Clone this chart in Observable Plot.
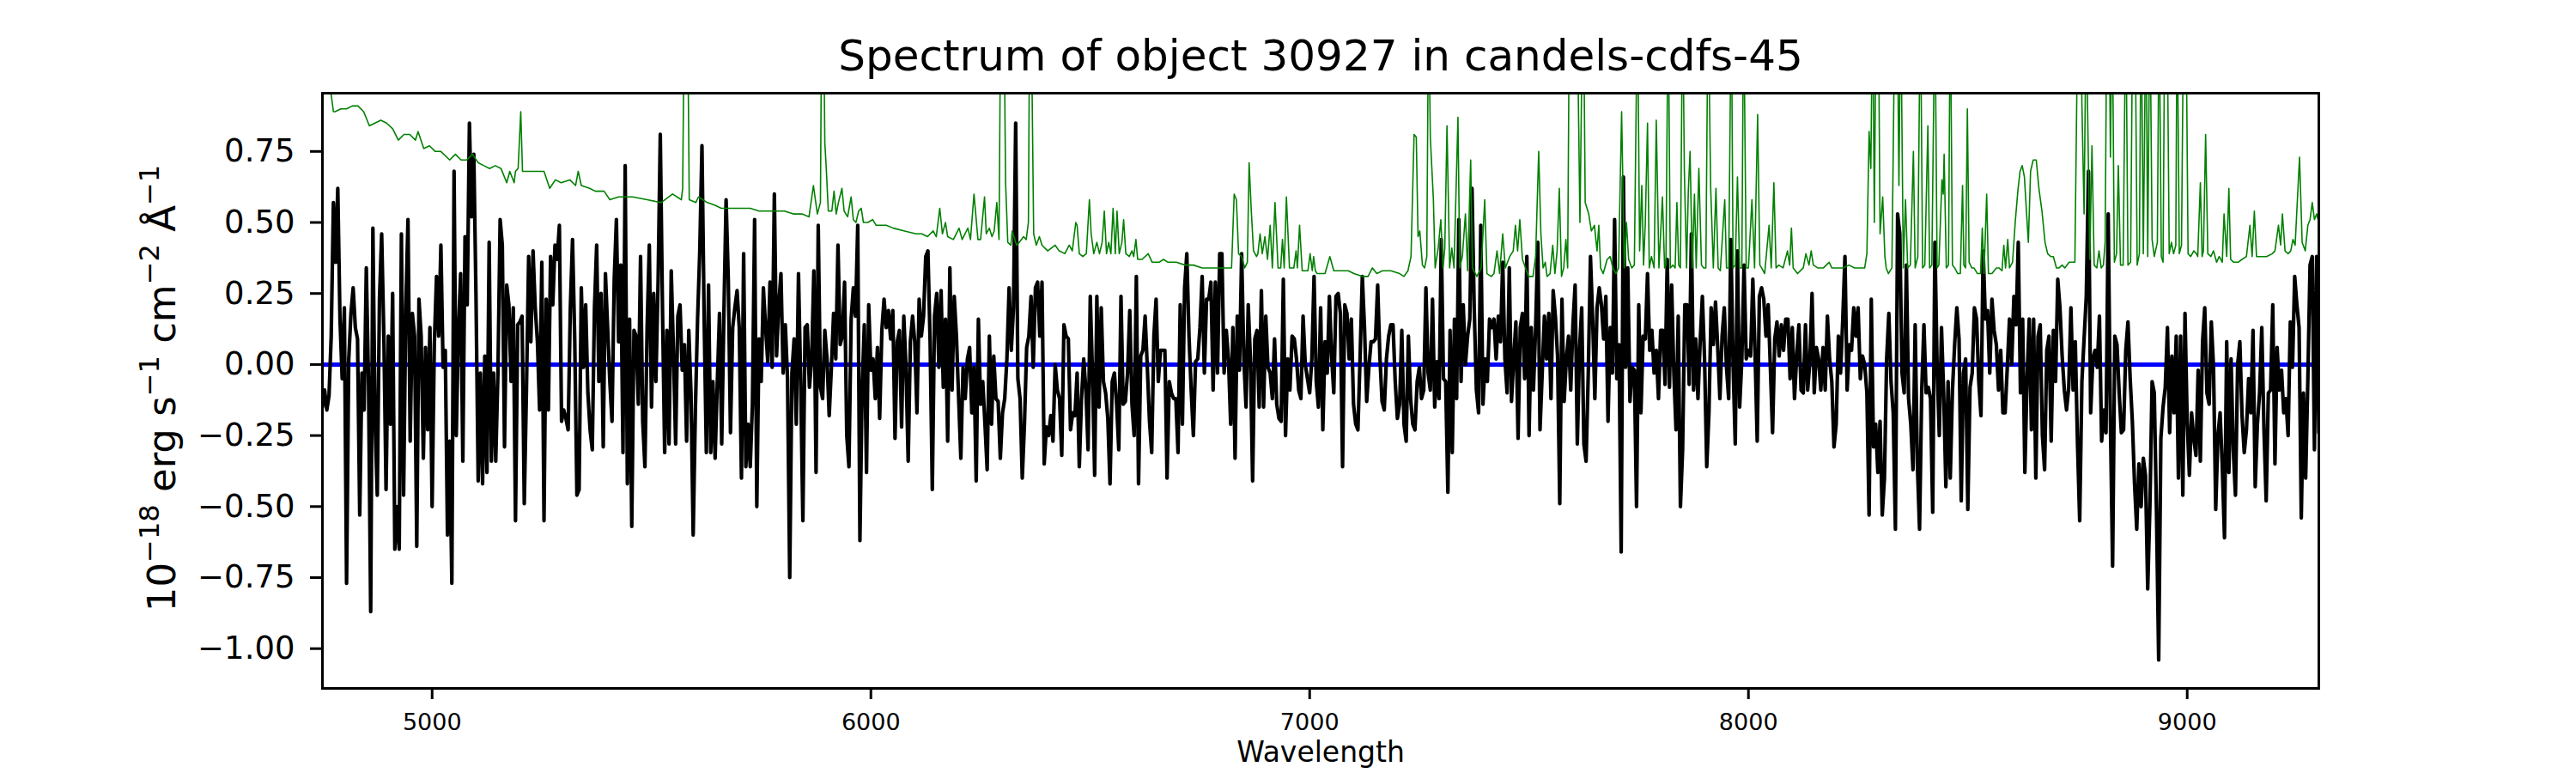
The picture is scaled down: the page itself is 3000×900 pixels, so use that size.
<!DOCTYPE html>
<html><head><meta charset="utf-8">
<script src="https://cdn.jsdelivr.net/npm/d3@7"></script>
<script src="https://cdn.jsdelivr.net/npm/@observablehq/plot@0.6"></script>
<style>html,body{margin:0;padding:0;background:#fff} svg{display:block}</style>
</head><body><div id="chart"></div>
<script>
const titleText = "Spectrum of object 30927 in candels-cdfs-45";
const xLabelText = "Wavelength";
const xTicks = [5000, 6000, 7000, 8000, 9000];
const yTicks = [-1, -0.75, -0.5, -0.25, 0, 0.25, 0.5, 0.75];
const modelLevel = [0];
// observed flux, one value every 5 Å starting at 4750 Å (each line = 100 Å)
const fluxStart = 4750, fluxStep = 5;
const flux = [
-.15,-.09,-.16,-.11,.1,.57,.36,.62,.16,-.05,.2,-.77,.02,.18,.27,.13,.09,-.53,-.03,-.16, // 4750
.34,-.06,-.87,.48,-.2,-.46,.23,.46,.1,-.44,.1,-.21,.25,-.65,-.5,-.65,.46,-.46,.2,.51, // 4850
-.27,.18,.1,-.64,.23,.1,-.33,.06,-.23,.13,-.5,.07,.31,.1,.42,-.01,.05,-.6,-.27,-.77, // 4950
.68,-.25,.12,.32,-.34,.45,.21,.85,.52,.74,.24,-.41,-.03,-.42,.03,-.38,.43,-.34,-.03,-.34, // 5050
-.03,.51,.42,-.29,.28,.21,-.06,.2,-.55,.14,.15,.17,-.49,-.09,.38,.08,.4,.2,.08,-.16, // 5150
.36,-.55,.23,-.16,.38,.21,.42,.37,.49,-.2,-.16,-.19,-.23,.2,.44,.09,-.46,-.44,.27,-.01, // 5250
.21,-.1,-.23,-.3,.2,.42,-.06,.25,-.29,.32,.13,-.06,-.2,.3,.51,.08,.35,-.31,.7,-.42, // 5350
.16,-.57,.12,.1,-.14,.38,-.2,-.36,.13,.42,-.15,.25,-.06,.29,.81,.2,-.31,.12,-.28,.33, // 5450
.05,-.28,.17,.21,-.02,.07,-.27,.12,-.1,-.6,-.16,.16,.4,.77,.16,-.31,.28,-.31,-.06,-.33, // 5550
-.06,.18,-.28,.18,.58,.3,-.24,.13,.2,.26,.13,-.4,.39,-.36,-.21,-.36,-.14,.51,-.5,.09, // 5650
-.06,.27,.13,.01,.29,-.01,.6,.03,.21,.32,-.03,.14,-.05,-.75,-.03,.09,-.21,.32,-.06,-.55, // 5750
.13,.14,-.08,.02,.33,-.38,.49,-.08,-.12,.12,.02,-.18,-.01,.18,.02,.42,.07,.1,.29,-.25, // 5850
-.36,.16,.27,.17,.49,-.62,-.09,.14,-.38,.21,-.02,.02,-.12,.06,-.19,.12,.23,.13,.19,.09, // 5950
.19,-.26,.08,.12,-.22,.17,-.01,-.34,.08,.17,.08,-.17,.23,.1,.17,.38,.4,.08,-.44,.17, // 6050
.25,-.01,.26,-.08,.16,-.27,.34,-.09,.24,.1,-.12,-.33,-.01,-.12,.02,.06,-.17,-.01,-.41,.16, // 6150
-.14,-.06,-.21,-.37,.1,-.21,.03,-.12,-.13,-.33,-.17,-.12,.02,.27,.05,.2,.85,-.05,-.12,-.4, // 6250
-.21,.06,.1,.24,-.01,.27,.29,.1,.29,-.35,-.22,-.25,-.18,-.27,0,-.09,-.12,-.32,.14,.1, // 6350
.09,-.23,-.17,-.18,-.03,-.36,-.12,.02,-.09,-.3,.24,-.03,-.39,.24,-.15,.2,-.06,-.1,-.19,-.42, // 6450
-.06,-.03,-.14,-.3,.24,-.14,-.13,-.03,.19,-.14,-.25,.31,-.42,.03,.05,.17,-.01,-.2,-.31,.1, // 6550
.23,-.06,.05,.05,.05,-.4,-.06,-.1,-.12,-.12,-.31,.21,-.21,.27,.39,.1,-.09,-.25,.01,.02, // 6650
.13,.31,-.03,.23,.23,.29,-.09,.29,-.03,.39,.39,-.03,.12,.02,-.21,.13,-.33,.17,-.02,.39, // 6750
.02,-.15,.21,.02,-.41,.09,.12,-.15,.26,-.15,.17,-.01,-.03,-.12,.09,-.14,-.19,-.2,.3,-.25, // 6850
.02,-.09,.1,.09,.02,-.09,-.12,.17,0,-.05,-.1,.02,.31,-.06,-.15,.2,-.23,.08,-.03,.24, // 6950
.03,-.1,.24,.25,.18,-.36,.21,.18,.02,.16,-.14,-.21,-.23,.03,.31,.13,-.13,-.01,.08,.08, // 7050
.09,.28,.03,-.13,-.16,.02,.1,.14,.14,-.06,-.19,-.14,.12,-.21,-.27,.1,-.12,-.21,-.23,-.06, // 7150
-.01,-.12,-.09,.27,-.03,-.09,.23,-.15,.01,-.12,.44,-.05,-.06,-.45,.12,-.31,.16,-.12,.51,-.06, // 7250
.21,0,.1,.16,.62,.2,-.09,-.17,.49,-.14,.02,-.06,.16,.13,.16,.02,.17,.08,.36,.02, // 7350
-.1,.34,-.13,.02,.15,-.26,.13,.18,-.05,.38,-.25,.13,-.09,.13,.43,-.23,-.03,.17,.02,.18, // 7450
-.12,.26,.17,.03,-.49,.23,-.13,.02,.1,-.09,.14,.28,-.28,.05,.2,-.28,-.34,-.03,.38,.16, // 7550
-.12,.2,.27,.21,.09,.24,-.2,.13,-.03,.51,-.05,.07,-.66,.66,-.01,.34,-.13,-.01,-.02,-.5, // 7650
.21,-.17,.1,.09,.32,.05,.12,-.03,.05,-.12,.12,.12,-.07,.37,-.08,.28,-.03,-.23,.17,-.5, // 7750
-.3,.21,.21,-.07,.46,-.09,.09,-.12,.08,.24,.02,-.36,-.17,.2,.07,.22,.06,-.12,.1,.2, // 7850
-.01,-.12,.44,0,-.28,.4,-.15,.02,.35,.02,.05,.03,.3,.05,-.27,.24,.27,.23,.1,.21, // 7950
-.01,-.24,.09,.15,.03,.14,.05,.16,.16,-.05,.13,-.12,.03,.14,-.09,-.1,.14,-.09,.01,.25, // 8050
-.1,.06,.02,-.09,.06,-.09,.17,.02,-.06,-.29,-.21,.1,-.03,.16,.38,-.09,.07,.05,.2,.1, // 8150
.2,-.05,.03,0,-.1,-.53,.23,-.29,-.21,-.38,-.2,-.53,-.4,.02,.18,-.06,-.17,-.58,.53,.46, // 8250
-.03,-.1,.35,-.12,-.21,-.37,.14,-.35,-.58,-.09,.14,-.1,-.08,-.12,-.52,.43,0,-.25,.13,-.1, // 8350
-.43,-.06,-.4,-.09,.07,.2,.09,-.48,-.03,.02,-.51,-.08,-.03,.2,.16,-.06,-.18,.4,.16,.19, // 8450
-.03,.23,.12,.07,-.09,.05,-.17,-.17,-.01,.16,0,.24,.14,.43,-.1,.16,-.38,-.05,.16,-.23, // 8550
.16,-.4,.1,.14,-.25,-.37,.05,.1,-.27,.12,-.06,.3,.2,.03,-.09,-.16,-.08,.2,-.09,.08, // 8650
-.28,-.55,-.06,.09,.24,.68,-.17,.02,.05,-.01,.17,-.27,-.16,-.24,.53,-.2,-.71,.1,.07,-.1, // 8750
-.24,-.23,.05,.15,-.05,-.2,-.42,-.58,-.35,-.5,-.33,-.39,-.79,-.5,-.06,-.1,-.52,-1.04,-.26,-.15, // 8850
-.08,.13,-.24,.03,-.17,.1,-.4,.1,-.46,.18,-.2,-.39,-.17,-.26,-.32,-.02,-.34,.08,.2,-.1, // 8950
-.14,.15,-.01,-.51,-.25,-.17,-.36,-.61,.08,-.38,.02,-.3,-.46,0,.08,-.18,-.31,-.23,-.05,-.17, // 9050
.12,-.43,-.21,-.1,.13,-.23,-.48,-.1,-.09,.21,-.35,.06,-.09,-.02,-.17,-.12,-.25,.15,-.01,.31, // 9150
.21,.13,-.54,-.1,-.4,-.05,.35,.38,-.3,.38,-.24 // 9250
];
// error spectrum: [wavelength (Å), value]
const errorSpectrum = [
[4750,.99],[4770,.95],[4775,.89],[4779,.89],[4792,.9],[4805,.9],[4818,.91],[4831,.91],[4844,.89],[4857,.84],[4870,.85],[4883,.86],[4896,.85],[4910,.83],[4923,.79],[4936,.81],[4949,.81],[4962,.79],[4968,.82],[4981,.76],[4994,.77],[5007,.75],[5020,.75],[5040,.72],[5053,.74],[5066,.72],[5079,.72],[5092,.74],[5105,.71],[5118,.7],[5131,.69],[5144,.7],[5157,.69],[5170,.64],[5177,.68],[5187,.64],[5190,.68],[5196,.69],[5202,.89],[5206,.68],[5216,.68],[5229,.68],[5242,.68],[5255,.68],[5268,.62],[5281,.65],[5294,.64],[5314,.65],[5327,.63],[5333,.68],[5340,.63],[5359,.62],[5372,.61],[5392,.61],[5405,.58],[5425,.59],[5457,.59],[5490,.58],[5522,.57],[5548,.6],[5568,.58],[5571,.62],[5575,1.3],[5582,1.3],[5586,.58],[5601,.57],[5607,.59],[5627,.57],[5646,.56],[5659,.55],
[5680,.55],[5699,.55],[5725,.55],[5745,.54],[5764,.54],[5784,.54],[5803,.54],[5823,.53],[5843,.53],[5859,.52],[5869,.63],[5878,.53],[5885,.57],[5888,1.3],[5892,1.3],[5895,.78],[5898,.7],[5903,.54],[5911,.54],[5916,.61],[5921,.53],[5926,.57],[5934,.62],[5939,.54],[5947,.52],[5955,.59],[5960,.51],[5966,.5],[5972,.54],[5978,.55],[5983,.5],[5993,.5],[6004,.51],[6012,.49],[6025,.49],[6035,.49],[6051,.48],[6077,.47],[6103,.46],[6116,.46],[6129,.45],[6142,.47],[6149,.45],[6157,.55],[6163,.46],[6170,.5],[6175,.45],[6188,.44],[6201,.48],[6208,.44],[6221,.48],[6227,.44],[6235,.6],[6244,.44],[6250,.44],[6259,.59],[6263,.46],[6270,.48],[6276,.45],[6281,.47],[6287,.57],[6292,.44],[6296,1.3],[6303,1.3],[6307,.64],[6312,.43],[6319,.42],[6322,.47],[6332,.42],[6338,.43],[6348,.45],[6354,.44],[6359,.5],[6362,1.3],[6365,1.3],[6371,.46],[6377,.42],[6384,.45],[6390,.42],[6403,.4],[6420,.42],[6429,.4],[6442,.39],[6452,.42],[6459,.4],[6467,.5],[6470,.49],[6475,.39],[6483,.38],[6491,.39],[6498,.58],[6502,.46],[6508,.39],[6515,.43],[6521,.39],[6527,.43],[6532,.54],[6537,.39],[6542,.43],[6547,.39],[6552,.55],[6557,.39],[6561,.54],[6566,.39],[6572,.43],[6576,.51],[6581,.39],[6589,.38],
[6595,.4],[6599,.38],[6604,.44],[6608,.37],[6618,.37],[6632,.39],[6641,.36],[6657,.36],[6667,.37],[6677,.36],[6696,.36],[6716,.35],[6735,.35],[6755,.34],[6775,.34],[6794,.34],[6814,.34],[6822,.34],[6828,.6],[6833,.58],[6838,.39],[6845,.38],[6852,.34],[6858,.36],[6862,.71],[6867,.54],[6872,.4],[6879,.38],[6882,.39],[6887,.46],[6892,.39],[6898,.45],[6904,.37],[6910,.49],[6915,.34],[6921,.57],[6928,.34],[6934,.34],[6938,.44],[6942,.34],[6947,.59],[6954,.34],[6964,.34],[6969,.4],[6972,.34],[6977,.49],[6983,.33],[6996,.33],[7001,.39],[7006,.33],[7009,.38],[7013,.33],[7017,.32],[7035,.32],[7046,.38],[7055,.33],[7068,.33],[7088,.33],[7101,.32],[7120,.31],[7133,.31],[7143,.34],[7153,.32],[7166,.33],[7185,.33],[7205,.32],[7215,.31],[7224,.33],[7231,.38],[7238,.81],[7243,.8],[7247,.45],[7251,.47],[7257,.35],[7262,.34],[7267,.38],[7271,1.3],[7275,.8],[7282,.58],[7286,.34],[7293,.41],[7299,.51],[7304,.34],[7308,.41],[7313,.84],[7319,.34],[7324,.41],[7329,.34],[7338,.87],[7342,.34],[7348,.38],[7355,.53],[7360,.33],[7367,.72],[7371,.34],[7381,.31],[7391,.34],[7399,.58],[7404,.32],[7414,.31],[7420,.32],[7427,.4],[7433,.32],[7440,.46],[7446,.34],[7456,.38],[7464,.4],[7469,.49],[7474,.4],[7479,.51],[7485,.37],[7492,.34],
[7499,.31],[7509,.31],[7515,.38],[7522,.75],[7527,.46],[7532,.34],[7537,.36],[7541,.31],[7548,.32],[7554,.42],[7559,.32],[7564,.4],[7569,.62],[7574,.31],[7579,.34],[7584,.44],[7588,.34],[7592,1.3],[7603,1.3],[7611,1.1],[7616,.5],[7620,1.0],[7624,1.3],[7628,.57],[7636,.53],[7642,.47],[7649,.49],[7655,.4],[7659,.49],[7663,.34],[7669,.32],[7678,.37],[7685,.38],[7691,.34],[7698,.32],[7704,.34],[7711,.89],[7717,.34],[7722,.5],[7727,.37],[7734,.34],[7740,.35],[7747,1.3],[7752,.4],[7757,.63],[7761,.35],[7765,.5],[7770,.85],[7774,.34],[7779,.38],[7785,.34],[7790,.86],[7796,.34],[7804,.59],[7809,.34],[7812,.35],[7817,1.3],[7822,.34],[7828,.35],[7833,.34],[7837,.57],[7841,.35],[7845,.34],[7850,1.3],[7854,.68],[7859,.34],[7863,.61],[7867,.75],[7872,.34],[7877,.6],[7881,.34],[7887,.69],[7893,.35],[7898,.34],[7903,.34],[7908,1.3],[7914,.62],[7920,.34],[7926,.62],[7931,.34],[7936,.33],[7946,.58],[7950,.34],[7955,.34],[7961,1.3],[7965,.34],[7970,.35],[7975,.66],[7980,.34],[7985,.34],[7989,1.3],[7995,.34],[8000,.34],[8008,.58],[8014,.34],[8021,.88],[8026,.35],[8030,.34],[8037,.32],[8047,.49],[8052,.34],[8058,.64],[8063,.34],[8069,.35],[8079,.34],[8089,.4],[8094,.35],[8098,.48],[8102,.34],[8112,.32],[8125,.34],[8131,.39],[8138,.35],[8143,.4],[8148,.35],[8158,.34],[8164,.34],[8171,.34],[8184,.36],[8190,.34],[8203,.34],[8216,.34],[8229,.35],[8242,.34],[8255,.34],[8265,.34],[8270,.39],[8275,.82],[8279,.69],[8283,1.3],[8287,.5],[8291,1.3],[8296,1.3],[8300,.46],[8306,.59],[8311,.38],[8314,.34],[8319,.32],[8327,.34],[8334,1.3],[8339,1.3],[8343,.63],[8347,1.3],[8353,.34],[8358,.58],[8363,.34],[8369,.35],[8376,.75],[8380,.34],[8386,.38],[8392,1.3],[8397,.34],[8402,.35],[8409,.84],[8413,.34],[8418,.35],
[8425,1.3],[8430,.34],[8434,.35],[8441,.65],[8444,.6],[8446,.74],[8451,.34],[8456,.35],[8460,1.3],[8465,.35],[8470,.34],[8477,.32],[8483,.32],[8488,.63],[8491,.35],[8495,.34],[8499,.9],[8503,.36],[8509,.34],[8514,.34],[8522,.32],[8529,.32],[8533,.48],[8537,.32],[8543,.6],[8547,.32],[8555,.32],[8565,.34],[8571,.34],[8578,.33],[8582,.42],[8586,.34],[8591,.44],[8595,.34],[8602,.36],[8608,.5],[8614,.61],[8619,.68],[8624,.7],[8629,.66],[8634,.53],[8638,.43],[8643,.68],[8649,.72],[8656,.72],[8662,.62],[8669,.54],[8676,.43],[8682,.39],[8689,.38],[8695,.38],[8702,.34],[8708,.34],[8715,.35],[8721,.34],[8731,.36],[8744,.36],[8751,1.3],[8757,1.3],[8760,.92],[8765,.53],[8770,1.3],[8773,.9],[8778,.37],[8783,.77],[8788,.35],[8794,.34],[8799,.4],[8804,.34],[8809,.35],[8813,.43],[8817,1.3],[8822,1.3],[8825,.73],[8829,1.3],[8834,.36],[8839,.39],[8843,.7],[8848,.35],[8854,.35],[8860,1.3],[8865,.35],[8871,.36],[8876,1.3],[8881,1.3],[8886,.35],[8891,.39],[8895,1.3],[8900,.39],[8906,1.3],[8910,.38],[8915,1.3],[8920,.44],[8925,.38],[8932,.43],[8936,1.3],[8941,.38],[8945,.36],[8949,1.3],[8954,1.3],[8959,.39],[8964,.43],[8969,.39],[8974,.42],[8977,1.3],[8982,.39],[8987,.42],[8992,1.3],[8997,1.3],[9002,.39],[9008,.38],[9015,.4],[9021,.39],[9024,.38],[9030,.64],[9034,.38],[9037,.4],[9042,.81],[9047,.39],[9054,.38],[9060,.4],[9067,.36],[9073,.38],[9080,.36],[9084,.53],[9090,.38],[9095,.62],[9099,.37],[9106,.36],[9116,.36],[9125,.37],[9135,.38],[9143,.49],[9148,.38],[9153,.54],[9158,.38],[9168,.38],[9181,.38],[9194,.39],[9200,.4],[9208,.49],[9213,.42],[9217,.53],[9223,.4],[9230,.39],[9236,.4],[9241,.44],[9246,.42],[9256,.73],[9262,.43],[9269,.4],[9275,.49],[9280,.51],[9285,.57],[9290,.51],[9295,.53],[9300,.5]
];

const fluxData = flux.map((f, i) => ({w: fluxStart + i * fluxStep, f}));
const errData = errorSpectrum.map(([w, e]) => ({w, e}));

const chart = Plot.plot({
  width: 3000, height: 900,
  marginLeft: 375, marginRight: 300, marginTop: 108, marginBottom: 99,
  style: {fontFamily: "DejaVu Sans", background: "white", color: "black", overflow: "visible"},
  x: {domain: [4750, 9300]},
  y: {domain: [-1.14, 0.955]},
  marks: [
    Plot.ruleY(modelLevel, {stroke: "#0000ff", strokeWidth: 5}),
    Plot.lineY(fluxData, {x: "w", y: "f", stroke: "black", strokeWidth: 4.2, clip: true}),
    Plot.lineY(errData, {x: "w", y: "e", stroke: "#008000", strokeWidth: 1.6, clip: true}),
    Plot.frame({stroke: "black", strokeWidth: 3}),
    Plot.axisX({ticks: xTicks, tickFormat: d3.format("d"), tickSize: 13, tickPadding: 16, fontSize: 27, strokeWidth: 3, label: null}),
    Plot.axisY({ticks: yTicks, tickFormat: d3.format(".2f"), tickSize: 14, tickPadding: 18, fontSize: 37, strokeWidth: 3, label: null}),
    Plot.text([titleText], {text: d => d, frameAnchor: "top", dy: -43, fontSize: 50, lineAnchor: "middle"}),
    Plot.text([xLabelText], {text: d => d, frameAnchor: "bottom", dy: 75, fontSize: 33, lineAnchor: "middle"})
  ]
});
document.getElementById("chart").appendChild(chart);

// y-axis label with superscripts
const yl = d3.select(chart).append("text")
  .attr("transform", "translate(204,452) rotate(-90)")
  .attr("text-anchor", "middle")
  .attr("font-family", "DejaVu Sans")
  .attr("font-size", 45)
  .attr("fill", "black");
const parts = [["10", 0], ["\u221218", 1], [" erg s", 0], ["\u22121", 1], [" cm", 0], ["\u22122", 1], [" \u00C5", 0], ["\u22121", 1]];
let raised = false;
for (const [t, sup] of parts) {
  const ts = yl.append("tspan").text(t);
  if (sup) { ts.attr("font-size", 32).attr("dy", raised ? 0 : -19); raised = true; }
  else { ts.attr("dy", raised ? 19 : 0); raised = false; }
}
</script>
</body></html>
